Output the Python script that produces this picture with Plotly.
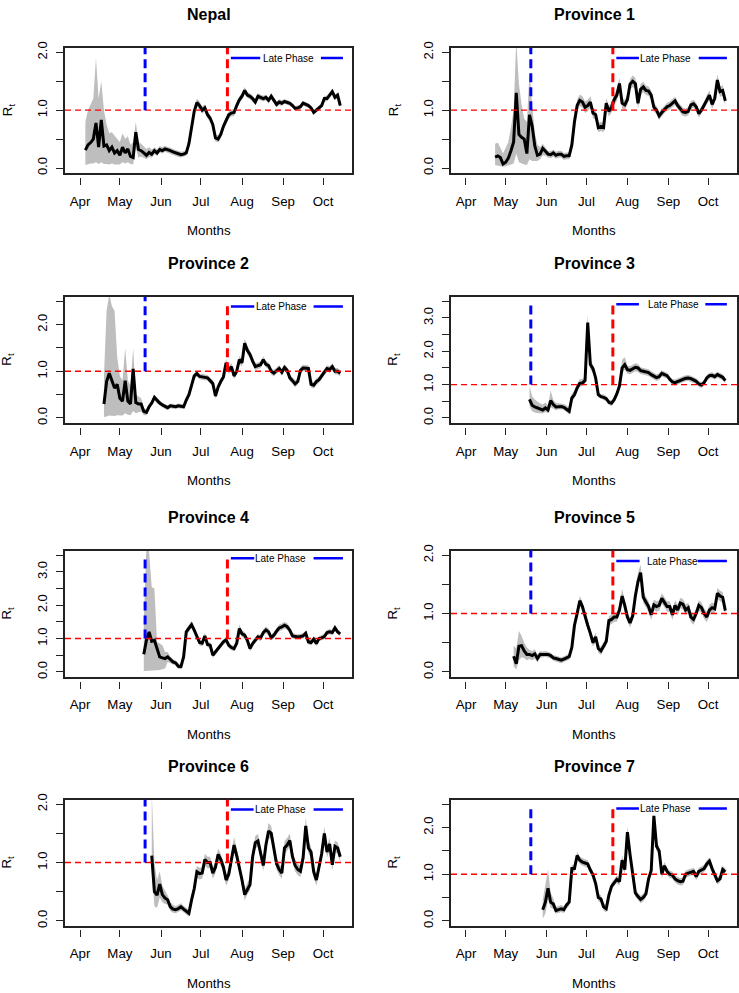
import pandas as pd
import plotly.graph_objects as go

W, H = 739, 993
FONT = "Liberation Sans, Arial, Helvetica, sans-serif"

# ---------------- data ----------------
panel_titles = ["Nepal", "Province 1", "Province 2", "Province 3",
                "Province 4", "Province 5", "Province 6", "Province 7"]
# first estimate date of each series (estimates every 2 days)
start_dates = ["2020-04-05", "2020-04-23", "2020-04-19", "2020-05-19",
               "2020-05-19", "2020-05-07", "2020-05-25", "2020-05-29"]
y_limits = [2.0, 2.0, 2.5, 3.5, 3.5, 2.0, 2.0, 2.5]

month_ticks = ["2020-04-01", "2020-05-01", "2020-06-01", "2020-07-01",
               "2020-08-01", "2020-09-01", "2020-10-01"]
month_labels = ["Apr", "May", "Jun", "Jul", "Aug", "Sep", "Oct"]
x_limits = ["2020-03-20 16:00", "2020-10-22 20:00"]
blue_marker_date = "2020-05-20"
red_marker_date = "2020-07-21"
threshold = 1.0

rt_nepal = [0.31, 0.40, 0.44, 0.50, 0.78, 0.36, 0.83, 0.38, 0.40, 0.30,
            0.36, 0.26, 0.30, 0.22, 0.36, 0.26, 0.33, 0.20, 0.18, 0.62,
            0.32, 0.30, 0.26, 0.22, 0.27, 0.24, 0.30, 0.26, 0.32, 0.30,
            0.33, 0.32, 0.30, 0.28, 0.26, 0.24, 0.23, 0.24, 0.26, 0.42,
            0.72, 0.98, 1.13, 1.08, 1.00, 1.04, 0.92, 0.86, 0.75, 0.52,
            0.50, 0.58, 0.72, 0.82, 0.92, 0.95, 0.96, 1.08, 1.18, 1.24,
            1.34, 1.26, 1.24, 1.20, 1.14, 1.24, 1.22, 1.20, 1.22, 1.17,
            1.24, 1.18, 1.10, 1.14, 1.12, 1.15, 1.13, 1.12, 1.08, 1.03,
            1.04, 1.06, 1.12, 1.10, 1.08, 1.04, 0.96, 1.00, 1.04, 1.08,
            1.20, 1.20, 1.26, 1.32, 1.22, 1.26, 1.08]
# credible-interval distance above / below the estimate (hundredths)
ci_up_nepal = [49, 60, 66, 70, 112, 84, 67, 62, 35, 30,
               26, 29, 20, 23, 24, 24, 22, 20, 27, 18,
               13, 12, 12, 11, 9, 8, 6, 6, 6, 6,
               5, 5, 5, 5, 5, 5, 5, 5, 5, 6,
               7, 7, 7, 7, 6, 6, 6, 6, 6, 6,
               6, 6, 6, 6, 6, 6, 6, 6, 6, 6,
               6, 5, 5, 5, 5, 5, 5, 5, 5, 5,
               5, 5, 5, 5, 5, 4, 4, 4, 4, 4,
               4, 4, 4, 4, 4, 4, 4, 4, 4, 4,
               5, 5, 5, 5, 5, 5, 5]
ci_dn_nepal = [26, 34, 36, 42, 68, 29, 73, 31, 33, 24,
               28, 20, 24, 16, 26, 18, 23, 13, 12, 27,
               14, 10, 9, 7, 8, 6, 6, 5, 5, 5,
               5, 5, 5, 5, 5, 5, 5, 5, 5, 5,
               7, 7, 7, 7, 6, 6, 6, 6, 6, 6,
               6, 6, 6, 6, 6, 6, 6, 6, 6, 6,
               6, 5, 5, 5, 5, 5, 5, 5, 5, 5,
               5, 5, 5, 5, 5, 4, 4, 4, 4, 4,
               4, 4, 4, 4, 4, 4, 4, 4, 4, 4,
               5, 5, 5, 5, 5, 5, 5]

rt_p1 = [0.19, 0.21, 0.18, 0.07, 0.10, 0.17, 0.30, 0.45, 1.30, 0.58,
         0.53, 0.50, 0.25, 0.92, 0.73, 0.38, 0.22, 0.24, 0.34, 0.28,
         0.24, 0.23, 0.26, 0.22, 0.24, 0.24, 0.20, 0.21, 0.21, 0.40,
         0.80, 1.08, 1.17, 1.14, 1.05, 1.08, 1.14, 0.95, 0.92, 0.70,
         0.72, 0.70, 1.12, 0.98, 1.05, 1.18, 1.26, 1.46, 1.12, 1.09,
         1.18, 1.45, 1.50, 1.46, 1.12, 1.36, 1.40, 1.34, 1.33, 1.26,
         1.05, 1.00, 0.90, 0.96, 1.02, 1.06, 1.08, 1.12, 1.16, 1.08,
         1.02, 0.97, 0.96, 0.98, 1.09, 1.11, 1.06, 0.94, 1.00, 1.08,
         1.18, 1.26, 1.10, 1.20, 1.52, 1.32, 1.34, 1.16]
ci_up_p1 = [23, 23, 17, 18, 25, 28, 40, 55, 90, 87,
            57, 35, 55, 73, 37, 22, 18, 12, 8, 7,
            6, 6, 6, 6, 6, 6, 6, 6, 6, 6,
            8, 10, 10, 10, 10, 10, 10, 9, 9, 8,
            8, 8, 9, 9, 9, 9, 10, 10, 9, 9,
            9, 9, 10, 10, 9, 9, 9, 8, 8, 8,
            7, 7, 7, 7, 7, 7, 7, 7, 7, 7,
            7, 7, 7, 7, 7, 7, 7, 7, 7, 7,
            8, 8, 8, 8, 10, 9, 9, 8]
ci_dn_p1 = [14, 17, 15, 5, 7, 13, 24, 37, 105, 48,
            45, 44, 20, 77, 61, 26, 10, 9, 12, 7,
            6, 6, 6, 6, 6, 6, 6, 6, 6, 6,
            8, 10, 10, 10, 10, 10, 10, 9, 9, 8,
            8, 8, 9, 9, 9, 9, 10, 10, 9, 9,
            9, 9, 10, 10, 9, 9, 9, 8, 8, 8,
            7, 7, 7, 7, 7, 7, 7, 7, 7, 7,
            7, 7, 7, 7, 7, 7, 7, 7, 7, 7,
            8, 8, 8, 8, 10, 9, 9, 8]

rt_p2 = [0.30, 0.78, 0.96, 0.80, 0.64, 0.72, 0.42, 0.36, 0.80, 0.36,
         0.30, 1.05, 0.33, 0.30, 0.30, 0.14, 0.12, 0.24, 0.32, 0.44,
         0.37, 0.32, 0.28, 0.24, 0.22, 0.26, 0.25, 0.24, 0.26, 0.25,
         0.24, 0.38, 0.50, 0.70, 0.90, 0.95, 0.89, 0.88, 0.87, 0.86,
         0.80, 0.74, 0.47, 0.66, 0.78, 0.88, 1.18, 1.02, 1.10, 0.90,
         1.00, 1.25, 1.18, 1.60, 1.45, 1.36, 1.22, 1.10, 1.12, 1.14,
         1.25, 1.15, 1.12, 1.00, 0.96, 1.02, 1.06, 0.98, 1.08, 1.02,
         0.86, 0.80, 0.73, 0.78, 1.02, 1.07, 1.07, 1.06, 0.72, 0.70,
         0.78, 0.82, 0.90, 0.98, 1.06, 1.04, 1.10, 1.00, 1.00, 0.96]
ci_up_p2 = [60, 152, 169, 160, 166, 58, 48, 44, 70, 44,
            40, 45, 17, 15, 12, 8, 6, 6, 6, 6,
            6, 5, 5, 5, 5, 5, 5, 5, 5, 5,
            5, 5, 6, 6, 6, 6, 6, 6, 6, 6,
            6, 6, 6, 6, 6, 7, 8, 8, 8, 7,
            7, 8, 8, 10, 9, 8, 7, 7, 7, 7,
            7, 7, 7, 7, 7, 7, 7, 7, 7, 7,
            7, 7, 7, 7, 7, 7, 7, 7, 7, 7,
            7, 7, 7, 7, 7, 7, 7, 7, 7, 7]
ci_dn_p2 = [28, 75, 91, 75, 60, 66, 37, 31, 70, 29,
            24, 90, 23, 18, 16, 8, 6, 6, 6, 6,
            6, 5, 5, 5, 5, 5, 5, 5, 5, 5,
            5, 5, 6, 6, 6, 6, 6, 6, 6, 6,
            6, 6, 6, 6, 6, 7, 8, 8, 8, 7,
            7, 8, 8, 10, 9, 8, 7, 7, 7, 7,
            7, 7, 7, 7, 7, 7, 7, 7, 7, 7,
            7, 7, 7, 7, 7, 7, 7, 7, 7, 7,
            7, 7, 7, 7, 7, 7, 7, 7, 7, 7]

rt_p3 = [0.56, 0.38, 0.33, 0.30, 0.25, 0.24, 0.30, 0.24, 0.52, 0.40,
         0.33, 0.34, 0.34, 0.32, 0.27, 0.20, 0.60, 0.70, 0.90, 1.04,
         1.05, 1.12, 2.86, 1.60, 1.48, 1.20, 0.70, 0.64, 0.62, 0.58,
         0.47, 0.44, 0.55, 0.72, 0.96, 1.50, 1.60, 1.45, 1.43, 1.48,
         1.52, 1.50, 1.42, 1.40, 1.38, 1.36, 1.30, 1.25, 1.21, 1.24,
         1.34, 1.30, 1.27, 1.16, 1.08, 1.06, 1.10, 1.12, 1.16, 1.19,
         1.20, 1.18, 1.14, 1.10, 1.02, 0.99, 1.06, 1.20, 1.27, 1.28,
         1.24, 1.30, 1.26, 1.22, 1.12]
ci_up_p3 = [39, 27, 22, 18, 18, 16, 16, 14, 30, 14,
            12, 10, 10, 10, 10, 10, 12, 12, 12, 12,
            12, 12, 24, 15, 12, 10, 8, 8, 8, 8,
            8, 8, 8, 8, 10, 25, 22, 12, 12, 12,
            12, 12, 10, 10, 10, 10, 10, 10, 10, 10,
            9, 9, 9, 9, 9, 9, 9, 9, 9, 9,
            9, 9, 9, 9, 9, 9, 9, 9, 9, 9,
            9, 9, 9, 9, 9]
ci_dn_p3 = [21, 18, 17, 15, 12, 11, 12, 10, 20, 12,
            10, 8, 8, 8, 8, 8, 10, 10, 10, 10,
            10, 10, 46, 15, 12, 10, 8, 8, 8, 8,
            8, 8, 8, 8, 10, 15, 15, 12, 12, 12,
            12, 12, 10, 10, 10, 10, 10, 10, 10, 10,
            9, 9, 9, 9, 9, 9, 9, 9, 9, 9,
            9, 9, 9, 9, 9, 9, 9, 9, 9, 9,
            9, 9, 9, 9, 9]

rt_p4 = [0.53, 0.95, 1.20, 0.92, 0.95, 0.70, 0.45, 0.42, 0.40, 0.45,
         0.36, 0.30, 0.27, 0.17, 0.16, 0.45, 1.20, 1.32, 1.42, 1.25,
         1.04, 0.88, 0.86, 1.08, 0.82, 0.80, 0.50, 0.60, 0.73, 0.80,
         0.90, 0.96, 0.80, 0.73, 0.70, 0.86, 1.30, 1.14, 1.10, 0.95,
         0.70, 0.85, 0.95, 1.05, 1.02, 1.18, 1.26, 1.20, 1.03, 1.10,
         1.22, 1.32, 1.35, 1.40, 1.36, 1.25, 1.08, 1.06, 1.05, 1.06,
         1.08, 1.16, 0.90, 0.88, 0.98, 0.85, 1.00, 1.02, 1.06, 1.18,
         1.20, 1.18, 1.32, 1.20, 1.14]
ci_up_p4 = [97, 285, 240, 163, 155, 20, 40, 38, 20, 15,
            10, 8, 8, 8, 8, 8, 10, 10, 10, 10,
            9, 9, 9, 9, 8, 8, 8, 8, 8, 8,
            8, 8, 8, 8, 8, 8, 12, 10, 10, 9,
            9, 9, 9, 9, 9, 10, 10, 10, 9, 9,
            10, 10, 10, 10, 10, 9, 8, 8, 8, 8,
            8, 8, 8, 8, 8, 8, 8, 8, 8, 8,
            8, 8, 8, 8, 8]
ci_dn_p4 = [50, 92, 116, 88, 90, 65, 39, 35, 30, 15,
            10, 8, 8, 8, 8, 8, 10, 10, 10, 10,
            9, 9, 9, 9, 8, 8, 8, 8, 8, 8,
            8, 8, 8, 8, 8, 8, 12, 10, 10, 9,
            9, 9, 9, 9, 9, 10, 10, 10, 9, 9,
            10, 10, 10, 10, 10, 9, 8, 8, 8, 8,
            8, 8, 8, 8, 8, 8, 8, 8, 8, 8,
            8, 8, 8, 8, 8]

rt_p5 = [0.27, 0.14, 0.44, 0.45, 0.36, 0.30, 0.30, 0.28, 0.31, 0.23,
         0.30, 0.30, 0.31, 0.30, 0.28, 0.24, 0.23, 0.21, 0.20, 0.22,
         0.24, 0.26, 0.42, 0.80, 1.00, 1.22, 1.12, 0.94, 0.80, 0.66,
         0.50, 0.60, 0.40, 0.36, 0.45, 0.52, 0.88, 0.90, 0.94, 0.94,
         1.06, 1.30, 1.14, 0.94, 0.84, 0.96, 1.30, 1.55, 1.70, 1.28,
         1.20, 1.12, 0.98, 1.15, 1.12, 1.14, 1.26, 1.20, 1.12, 1.12,
         0.98, 1.14, 1.06, 1.18, 1.16, 1.06, 1.10, 0.94, 0.90, 1.00,
         1.14, 1.10, 1.00, 0.94, 1.06, 1.10, 1.08, 1.35, 1.30, 1.28,
         1.05]
ci_up_p5 = [18, 26, 26, 17, 14, 12, 8, 8, 8, 7,
            6, 5, 5, 5, 5, 5, 5, 5, 5, 5,
            5, 5, 6, 7, 8, 8, 8, 8, 7, 7,
            7, 7, 7, 7, 7, 7, 8, 8, 8, 8,
            8, 12, 10, 8, 8, 8, 12, 15, 14, 10,
            9, 9, 9, 9, 9, 9, 9, 9, 9, 9,
            9, 9, 9, 9, 9, 9, 9, 9, 9, 9,
            9, 9, 9, 9, 9, 9, 9, 9, 9, 9,
            9]
ci_dn_p5 = [17, 10, 24, 20, 12, 10, 8, 8, 8, 7,
            6, 5, 5, 5, 5, 5, 5, 5, 5, 5,
            5, 5, 6, 7, 8, 8, 8, 8, 7, 7,
            7, 7, 7, 7, 7, 7, 8, 8, 8, 8,
            8, 10, 10, 8, 8, 8, 10, 10, 10, 10,
            9, 9, 9, 9, 9, 9, 9, 9, 9, 9,
            9, 9, 9, 9, 9, 9, 9, 9, 9, 9,
            9, 9, 9, 9, 9, 9, 9, 9, 9, 9,
            9]

rt_p6 = [1.12, 0.50, 0.44, 0.63, 0.45, 0.39, 0.36, 0.24, 0.20, 0.19,
         0.21, 0.24, 0.20, 0.17, 0.13, 0.36, 0.55, 0.84, 0.81, 0.82,
         1.05, 1.00, 1.00, 0.82, 0.92, 1.14, 1.05, 0.92, 0.70, 0.80,
         1.06, 1.30, 1.12, 0.92, 0.70, 0.45, 0.55, 0.62, 1.10, 1.34,
         1.37, 1.18, 0.95, 1.30, 1.54, 1.50, 1.25, 0.98, 0.88, 0.82,
         1.25, 1.30, 1.38, 1.10, 0.95, 0.88, 0.85, 1.08, 1.63, 1.25,
         1.18, 0.84, 0.70, 0.90, 1.15, 1.50, 1.18, 1.32, 0.96, 1.28,
         1.25, 1.10]
ci_up_p6 = [108, 50, 26, 22, 15, 12, 8, 8, 7, 6,
            6, 6, 6, 6, 6, 8, 9, 10, 10, 10,
            10, 10, 10, 10, 10, 10, 10, 10, 10, 10,
            12, 14, 12, 10, 10, 10, 10, 10, 10, 12,
            12, 10, 10, 12, 14, 12, 10, 10, 10, 10,
            12, 12, 12, 10, 10, 10, 10, 10, 14, 12,
            10, 10, 10, 10, 10, 12, 10, 10, 10, 10,
            10, 10]
ci_dn_p6 = [22, 25, 22, 23, 13, 10, 8, 7, 6, 6,
            6, 6, 6, 6, 6, 8, 9, 10, 10, 10,
            10, 10, 10, 10, 10, 10, 10, 10, 10, 10,
            12, 12, 10, 10, 10, 10, 10, 10, 10, 10,
            10, 10, 10, 10, 12, 10, 10, 10, 10, 10,
            10, 10, 10, 10, 10, 10, 10, 10, 12, 10,
            10, 10, 10, 10, 10, 10, 10, 10, 10, 10,
            10, 10]

rt_p7 = [0.24, 0.40, 0.70, 0.40, 0.36, 0.22, 0.24, 0.26, 0.24, 0.34,
         0.40, 1.12, 1.12, 1.40, 1.30, 1.26, 1.24, 1.22, 1.09, 0.98,
         0.80, 0.50, 0.47, 0.30, 0.26, 0.55, 0.74, 0.83, 0.89, 0.84,
         1.30, 1.10, 1.90, 1.42, 1.00, 0.60, 0.52, 0.46, 0.50, 0.58,
         0.90, 1.08, 2.25, 1.60, 1.50, 1.00, 1.18, 1.06, 1.00, 0.98,
         0.90, 0.86, 0.84, 0.85, 1.00, 1.02, 1.05, 1.06, 0.95, 1.06,
         1.09, 1.12, 1.22, 1.28, 1.12, 0.98, 0.86, 0.90, 1.10, 1.05]
ci_up_p7 = [21, 40, 40, 20, 12, 8, 8, 8, 7, 7,
            8, 8, 8, 8, 8, 8, 8, 8, 8, 8,
            8, 8, 8, 8, 8, 8, 8, 8, 8, 8,
            10, 10, 12, 10, 8, 8, 8, 8, 8, 8,
            8, 8, 8, 10, 10, 8, 8, 8, 8, 8,
            8, 8, 8, 8, 8, 8, 8, 8, 8, 8,
            8, 8, 8, 8, 8, 8, 8, 8, 8, 8]
ci_dn_p7 = [19, 25, 25, 12, 10, 7, 7, 7, 7, 7,
            8, 8, 8, 8, 8, 8, 8, 8, 8, 8,
            8, 8, 8, 8, 8, 8, 8, 8, 8, 8,
            10, 10, 12, 10, 8, 8, 8, 8, 8, 8,
            8, 8, 20, 10, 10, 8, 8, 8, 8, 8,
            8, 8, 8, 8, 8, 8, 8, 8, 8, 8,
            8, 8, 8, 8, 8, 8, 8, 8, 8, 8]

rt_series = [rt_nepal, rt_p1, rt_p2, rt_p3, rt_p4, rt_p5, rt_p6, rt_p7]
ci_up_series = [ci_up_nepal, ci_up_p1, ci_up_p2, ci_up_p3, ci_up_p4, ci_up_p5, ci_up_p6, ci_up_p7]
ci_dn_series = [ci_dn_nepal, ci_dn_p1, ci_dn_p2, ci_dn_p3, ci_dn_p4, ci_dn_p5, ci_dn_p6, ci_dn_p7]

# ---------------- layout geometry (pixels) ----------------
col_px = [(65, 352), (451, 737)]
row_px = [(42, 168), (293, 420), (549, 676), (800, 927)]
blue_top = [2.08, 2.08, 2.6, 3.45, 3.45, 2.08, 2.08, 2.42]
red_top = [2.08, 2.08, 2.41, 3.45, 3.45, 2.08, 2.08, 2.42]
legend_y = [1.90, 1.90, 2.39, 3.41, 3.41, 1.90, 1.91, 2.41]
# legend pieces, in days after 1 April: (line1 start, line1 end, text centre, line2 start, line2 end)
legend_days = [(113.6, 135.7, 156.8, 181.4, 198.0),
               (113.6, 130.7, 150.6, 175.9, 197.2),
               (113.6, 131.2, 151.5, 175.9, 198.0),
               (113.6, 130.7, 156.5, 180.9, 197.2),
               (113.6, 131.2, 150.6, 175.9, 198.0),
               (113.6, 131.2, 156.3, 175.1, 197.2),
               (113.6, 130.7, 150.6, 175.9, 198.0),
               (113.6, 130.7, 150.6, 175.9, 197.2)]

APR1 = pd.Timestamp("2020-04-01")


def day(d):
    return APR1 + pd.Timedelta(days=d)


fig = go.Figure()
layout = dict(width=W, height=H, margin=dict(l=0, r=0, t=0, b=0),
              paper_bgcolor="white", plot_bgcolor="white",
              showlegend=False, font=dict(family=FONT, color="black"))
shapes, annotations = [], []

for i, title in enumerate(panel_titles):
    k = i + 1
    row, col = divmod(i, 2)
    xa = "x" if k == 1 else f"x{k}"
    ya = "y" if k == 1 else f"y{k}"
    xt = f"x{k + 8}"
    x0p, x1p = col_px[col]
    topp, botp = row_px[row]
    xdom = [x0p / W, x1p / W]
    ydom = [1 - botp / H, 1 - topp / H]
    yl = y_limits[i]

    rt = rt_series[i]
    dates = list(pd.date_range(start_dates[i], periods=len(rt), freq="2D"))
    hi = [m + u / 100 for m, u in zip(rt, ci_up_series[i])]
    lo = [m - d / 100 for m, d in zip(rt, ci_dn_series[i])]

    fig.add_trace(go.Scatter(x=dates + dates[::-1], y=hi + lo[::-1], fill="toself",
                             fillcolor="#BEBEBE", line=dict(width=0), mode="lines",
                             hoverinfo="skip", xaxis=xa, yaxis=ya))
    fig.add_trace(go.Scatter(x=dates, y=rt, mode="lines",
                             line=dict(color="black", width=3),
                             xaxis=xa, yaxis=ya))
    # invisible trace so the detached month axis is drawn
    fig.add_trace(go.Scatter(x=[dates[0]], y=[None], mode="markers",
                             hoverinfo="skip", xaxis=xt, yaxis=ya))

    xkey = "xaxis" if k == 1 else f"xaxis{k}"
    ykey = "yaxis" if k == 1 else f"yaxis{k}"
    layout[xkey] = dict(domain=xdom, anchor=ya, range=x_limits, type="date",
                        showgrid=False, zeroline=False, showline=True, mirror=True,
                        linecolor="#222", linewidth=1.5, ticks="", showticklabels=False)
    major = [float(v) for v in range(int(yl) + 1)]
    layout[ykey] = dict(domain=ydom, anchor=xa, range=[-0.04 * yl, 1.04 * yl],
                        showgrid=False, zeroline=False, showline=True, mirror=True,
                        linecolor="#222", linewidth=1.5, ticks="outside", ticklen=7,
                        tickwidth=1.2, tickcolor="#222", tickmode="array",
                        tickvals=major, ticktext=[f"{v:.1f}" for v in major],
                        minor=dict(tick0=0, dtick=0.5, ticks="outside", ticklen=7,
                                   tickwidth=1.2, tickcolor="#222", showgrid=False),
                        tickangle=-90, tickfont=dict(size=13, family=FONT, color="black"),
                        ticklabelstandoff=4)
    layout[f"xaxis{k + 8}"] = dict(domain=xdom, overlaying=xa, anchor="free",
                                   position=ydom[0] - 4 / H, range=x_limits, type="date",
                                   showgrid=False, zeroline=False, showline=False,
                                   ticks="outside", ticklen=7, tickwidth=1.2, tickcolor="#222",
                                   tickvals=month_ticks, ticktext=month_labels,
                                   tickfont=dict(size=13.3, family=FONT, color="black"),
                                   ticklabelstandoff=5)

    # reference lines
    shapes.append(dict(type="line", xref=f"{xa} domain", yref=ya, x0=0, x1=1,
                       y0=threshold, y1=threshold,
                       line=dict(color="#FF0000", width=1.4, dash="6px,4px")))
    shapes.append(dict(type="line", xref=xa, yref=ya, x0=blue_marker_date, x1=blue_marker_date,
                       y0=threshold, y1=blue_top[i],
                       line=dict(color="#0000FF", width=3, dash="9px,5px")))
    shapes.append(dict(type="line", xref=xa, yref=ya, x0=red_marker_date, x1=red_marker_date,
                       y0=threshold, y1=red_top[i],
                       line=dict(color="#FF0000", width=3, dash="9px,5px")))
    # "Late Phase" legend
    l1a, l1b, tc, l2a, l2b = legend_days[i]
    for a, b in [(l1a, l1b), (l2a, l2b)]:
        shapes.append(dict(type="line", xref=xa, yref=ya, x0=day(a), x1=day(b),
                           y0=legend_y[i], y1=legend_y[i],
                           line=dict(color="#0000FF", width=2.5)))
    annotations.append(dict(text="Late Phase", xref=xa, yref=ya, x=day(tc), y=legend_y[i],
                            xanchor="center", yanchor="middle", showarrow=False,
                            font=dict(size=10, family=FONT, color="black")))

    # titles and axis labels
    cx = (x0p + x1p) / 2 / W
    annotations.append(dict(text=title, xref="paper", yref="paper", x=cx,
                            y=1 - (topp - 33) / H, xanchor="center", yanchor="middle",
                            showarrow=False,
                            font=dict(size=16, family=FONT, color="black", weight="bold")))
    annotations.append(dict(text="Months", xref="paper", yref="paper", x=cx,
                            y=1 - (botp + 58) / H, xanchor="center", yanchor="middle",
                            showarrow=False, font=dict(size=13.3, family=FONT, color="black")))
    annotations.append(dict(text="R<sub>t</sub>", xref="paper", yref="paper",
                            x=(x0p - 57) / W, y=1 - (topp + botp) / 2 / H,
                            xanchor="center", yanchor="middle", textangle=-90,
                            showarrow=False, font=dict(size=13.3, family=FONT, color="black")))

layout["shapes"] = shapes
layout["annotations"] = annotations
fig.update_layout(**layout)
fig.write_html("out.html", config={"displayModeBar": False},
               post_script="document.body.style.margin='0';document.body.style.padding='0';")
